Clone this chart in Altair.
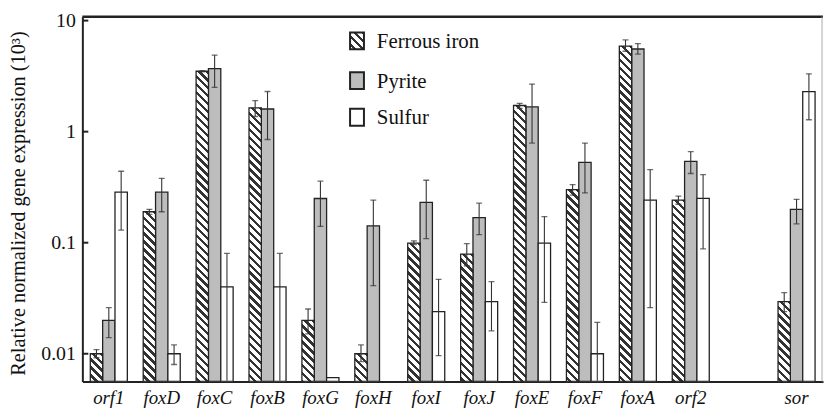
import math
import altair as alt
import pandas as pd

# ---------------- data ----------------
genes = ["orf1", "foxD", "foxC", "foxB", "foxG", "foxH", "foxI", "foxJ",
         "foxE", "foxF", "foxA", "orf2", "sor"]
spacer = " "
x_domain = genes[:12] + [spacer] + ["sor"]
series = ["Ferrous iron", "Pyrite", "Sulfur"]

ferrous = [0.0100, 0.19, 3.5, 1.64, 0.020, 0.0100, 0.099, 0.079, 1.72, 0.30, 5.9, 0.242, 0.0295]
ferrous_lo = [0.0092, 0.18, 3.45, 1.37, 0.0151, 0.0085, 0.096, 0.062, 1.62, 0.268, 5.3, 0.222, 0.0239]
ferrous_hi = [0.0109, 0.20, 3.55, 1.9, 0.0253, 0.012, 0.104, 0.098, 1.80, 0.334, 6.7, 0.263, 0.0355]

pyrite = [0.020, 0.285, 3.7, 1.6, 0.25, 0.142, 0.231, 0.168, 1.67, 0.53, 5.55, 0.54, 0.20]
pyrite_lo = [0.014, 0.19, 2.5, 0.85, 0.14, 0.041, 0.109, 0.118, 0.79, 0.281, 5.0, 0.42, 0.148]
pyrite_hi = [0.026, 0.38, 4.9, 2.3, 0.358, 0.242, 0.365, 0.227, 2.68, 0.79, 6.2, 0.66, 0.246]

sulfur = [0.285, 0.0100, 0.040, 0.040, 0.0061, None, 0.024, 0.0295, 0.099, 0.0100, 0.242, 0.251, 2.29]
sulfur_lo = [0.13, 0.008, 0.0057, 0.0057, None, None, 0.0096, 0.0161, 0.029, 0.0057, 0.026, 0.088, 1.28]
sulfur_hi = [0.44, 0.012, 0.080, 0.080, None, None, 0.0468, 0.0446, 0.172, 0.0192, 0.455, 0.41, 3.32]

y_ticks = [0.01, 0.1, 1, 10]

# ---------------- layout / style ----------------
W, H = 747, 368
Y_MIN, Y_MAX = 0.005623, 10.86
PAD_INNER = 0.3
BAR_W = W / len(x_domain) * (1 - PAD_INNER) / 3
SERIF = "Liberation Serif"
INK = "#222"
GRAY = "#bdbdbd"

rows = []
for i, g in enumerate(genes):
    for s, v, lo, hi in ((series[0], ferrous, ferrous_lo, ferrous_hi),
                         (series[1], pyrite, pyrite_lo, pyrite_hi),
                         (series[2], sulfur, sulfur_lo, sulfur_hi)):
        rows.append({"gene": g, "series": s, "value": v[i], "lo": lo[i],
                     "hi": hi[i], "base": Y_MIN})
df = pd.DataFrame(rows)
bars_df = df.dropna(subset=["value"])
err_df = df.dropna(subset=["lo"])


def hatch(w, h, period=8.0, frac=0.42, dark="#333", light="white"):
    """diagonal '\\' stripes in pixel space, expressed as a bbox gradient"""
    k = (w + h) / (w * w + h * h)
    total = w + h
    stops = []
    pos = 0.0
    while pos < total:
        a = pos / total
        b = min((pos + frac * period) / total, 1.0)
        c = min((pos + period) / total, 1.0)
        stops += [(a, dark), (b, dark), (b, light), (c, light)]
        pos += period
    return {"gradient": "linear", "x1": 1, "y1": 0, "x2": 1 - k * w, "y2": k * h,
            "stops": [{"offset": round(o, 5), "color": col} for o, col in stops]}


def px_height(v):
    return H * (math.log10(v) - math.log10(Y_MIN)) / (math.log10(Y_MAX) - math.log10(Y_MIN))


x_axis = alt.Axis(title=None, labelFont=SERIF, labelFontStyle="italic", labelFontSize=19,
                  labelColor="#111", ticks=False, tickSize=0, domainWidth=2,
                  domainColor=INK, labelPadding=7, labelAngle=0)
y_axis = alt.Axis(values=y_ticks, format="~g", title="Relative normalized gene expression (10³)",
                  titleFont=SERIF, titleFontSize=20.5, titleFontWeight="normal", titleColor="#111",
                  titlePadding=12, titleY=188, labelFont=SERIF, labelFontSize=20,
                  labelColor="#111", ticks=False, tickSize=0, labelPadding=7, domainWidth=2,
                  domainColor=INK, grid=False)
x_scale = alt.Scale(domain=x_domain, paddingInner=PAD_INNER, paddingOuter=PAD_INNER / 2)
xo_scale = alt.Scale(domain=series, paddingInner=0, paddingOuter=0)
y_scale = alt.Scale(type="log", domain=[Y_MIN, Y_MAX], nice=False)


def X():
    return alt.X("gene:N", scale=x_scale, axis=x_axis)


def XO():
    return alt.XOffset("series:N", scale=xo_scale)


def Y(field):
    return alt.Y(f"{field}:Q", scale=y_scale, axis=y_axis)


base = alt.Chart(bars_df)

layers = []
# pyrite and sulfur bars
layers.append(base.transform_filter(alt.datum.series == series[1])
              .mark_bar(fill=GRAY, stroke=INK, strokeWidth=1.3, clip=True)
              .encode(x=X(), xOffset=XO(), y=Y("value"), y2=alt.Y2("base:Q")))
layers.append(base.transform_filter(alt.datum.series == series[2])
              .mark_bar(fill="white", stroke=INK, strokeWidth=1.3, clip=True)
              .encode(x=X(), xOffset=XO(), y=Y("value"), y2=alt.Y2("base:Q")))
# hatched ferrous bars, one gradient per bar
for g, v in zip(genes, ferrous):
    layers.append(base.transform_filter((alt.datum.series == series[0]) & (alt.datum.gene == g))
                  .mark_bar(fill=hatch(BAR_W, px_height(v)), stroke=INK, strokeWidth=1.3, clip=True)
                  .encode(x=X(), xOffset=XO(), y=Y("value"), y2=alt.Y2("base:Q")))

# error bars
err = alt.Chart(err_df)
layers.append(err.mark_rule(color="#333", strokeWidth=1.1, clip=True)
              .encode(x=X(), xOffset=XO(), y=Y("hi"), y2=alt.Y2("lo:Q")))
layers.append(err.mark_tick(color="#333", thickness=1.3, size=6, clip=True)
              .encode(x=X(), xOffset=XO(), y=Y("hi")))
layers.append(err.transform_filter(alt.datum.lo > 0.006)
              .mark_tick(color="#333", thickness=1.3, size=6, clip=True)
              .encode(x=X(), xOffset=XO(), y=Y("lo")))

# inward y ticks
ticks_df = pd.DataFrame({"value": y_ticks})
layers.append(alt.Chart(ticks_df).mark_rule(color=INK, strokeWidth=2)
              .encode(y=Y("value"), x=alt.value(0), x2=alt.value(6)))

# frame: top and right borders
frame_df = pd.DataFrame({"k": [0]})
layers.append(alt.Chart(frame_df).mark_rule(color=INK, strokeWidth=2.5)
              .encode(x=alt.value(0), x2=alt.value(W), y=alt.value(0)))
layers.append(alt.Chart(frame_df).mark_rule(color="#aaa", strokeWidth=1)
              .encode(x=alt.value(W - 1), y=alt.value(0), y2=alt.value(H)))

# legend
leg_df = pd.DataFrame({"series": series})
sw_x0, sw_x1 = 270, 284
rows_y = [(16, 33), (56, 73), (93, 110)]
fills = [hatch(sw_x1 - sw_x0, 17), GRAY, "white"]
for s, (y0, y1), f in zip(series, rows_y, fills):
    sub = alt.Chart(leg_df).transform_filter(alt.datum.series == s)
    layers.append(sub.mark_rect(fill=f, stroke=INK, strokeWidth=2)
                  .encode(x=alt.value(sw_x0), x2=alt.value(sw_x1), y=alt.value(y0), y2=alt.value(y1)))
    layers.append(sub.mark_text(align="left", baseline="middle", font=SERIF, fontSize=21,
                                color="#111")
                  .encode(x=alt.value(297), y=alt.value((y0 + y1) / 2 + 1), text="series:N"))

chart = (alt.layer(*layers)
         .properties(width=W, height=H, background="white",
                     autosize=alt.AutoSizeParams(type="none"),
                     padding={"left": 75, "top": 7, "right": 1, "bottom": 25})
         .configure_view(stroke=None))

chart.save("out.html", embed_options={"renderer": "svg", "actions": False})
